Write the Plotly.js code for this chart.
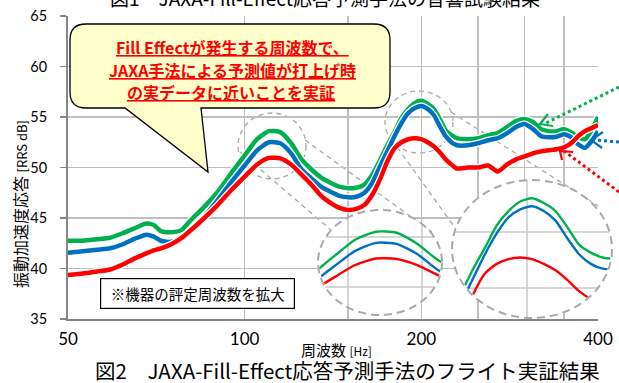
<!DOCTYPE html>
<html><head><meta charset="utf-8">
<script src="https://cdn.plot.ly/plotly-3.0.1.min.js"></script>
<style>html,body{margin:0;padding:0;background:#fff}#chart{width:619px;height:383px}</style>
</head><body><div id="chart"></div>
<script>
// ---- data ----
const freq  = [50,53,56,59,62,65,68,70,72,75,78,81,85,90,95,100,105,110,115,120,125,130,135,140,145,150,155,160,165,170,175,180,185,190,195,200,205,210,215,220,225,230,240,250,260,270,280,290,300,310,320,330,340,350,360,370,380,390,400];
const green = [42.75,42.75,42.9,43.05,43.5,44.0,44.45,44.3,43.7,43.6,43.8,44.8,46.0,47.6,49.5,51.2,52.8,53.6,53.5,52.4,50.8,49.8,49.0,48.5,48.1,47.95,48.0,48.3,49.3,50.7,52.2,53.5,54.9,55.8,56.4,56.6,56.3,55.8,54.8,53.7,53.2,52.9,52.8,52.9,53.2,53.4,54.0,54.6,54.8,54.5,53.8,53.6,53.6,53.8,53.5,53.0,52.8,53.7,55.0];
const blue  = [41.57,41.7,41.85,42.0,42.4,42.95,43.35,43.15,42.75,42.65,42.95,43.8,45.0,46.8,48.6,50.2,51.7,52.5,52.4,51.4,49.8,48.9,48.1,47.6,47.2,47.05,47.1,47.5,48.5,50.1,51.6,53.1,54.4,55.4,55.9,56.1,55.8,55.2,54.1,53.1,52.5,52.2,52.2,52.4,52.7,52.9,53.4,54.0,54.3,53.8,53.1,53.0,53.05,53.3,53.0,52.3,51.95,52.6,53.6];
const red   = [39.36,39.5,39.7,39.9,40.4,41.0,41.5,41.8,42.0,42.4,43.0,43.8,44.9,46.3,47.8,49.1,50.3,50.95,50.9,50.3,49.3,48.3,47.2,46.5,46.0,45.8,45.9,46.3,47.3,48.8,50.6,51.9,52.5,52.8,52.9,52.8,52.5,52.1,51.5,50.8,50.3,49.9,50.0,50.0,50.2,49.6,50.3,50.8,51.1,51.4,51.6,51.7,51.8,52.0,52.4,53.1,53.6,53.9,54.2];
const xTickVals  = [50,100,200,400];
const xTickText  = ['50','100','200','400'];
const xMinorGrid = [150,250,300,350];
const seriesColors = ['#00b050','#0070c0','#ff0000'];

// ---- geometry helpers (pixel -> paper) ----
const W=619,H=383,L=68,R=612,T=16,B=319,PR=598;
const px=x=>(x-L)/(R-L), py=y=>(B-y)/(B-T);
const P=(x,y)=>px(x).toFixed(5)+','+py(y).toFixed(5);

const traces=[];
const series=[green,blue,red];
series.forEach((s,i)=>{
  traces.push({x:freq,y:s,xaxis:'x',yaxis:'y',mode:'lines',line:{color:'#ffffff',width:7,shape:'spline',smoothing:0.6},hoverinfo:'skip'});
  traces.push({x:freq,y:s,xaxis:'x',yaxis:'y',mode:'lines',line:{color:seriesColors[i],width:4.5,shape:'spline',smoothing:0.6}});
});
const lenses=[
  {ax:'2',x0:318,x1:442,y0:210,y1:315,xr:[96,126],yr:[45.35,55.75],hg:[237,287],vg:[348,422]},
  {ax:'3',x0:452,x1:612,y0:180,y1:318,xr:[166,234],yr:[49.12,57.74],hg:[232,288],vg:[527]}
];
lenses.forEach(l=>{
  series.forEach((s,i)=>{
    traces.push({x:freq,y:s,xaxis:'x'+l.ax,yaxis:'y'+l.ax,mode:'lines',line:{color:seriesColors[i],width:2.4,shape:'spline',smoothing:0.6}});
  });
});

const shapes=[];
lenses.forEach(l=>{
  const cx=(l.x0+l.x1)/2, cy=(l.y0+l.y1)/2, rx=(l.x1-l.x0)/2, ry=(l.y1-l.y0)/2;
  const dX=p=>l.xr[0]+(p-l.x0)/(l.x1-l.x0)*(l.xr[1]-l.xr[0]);
  const dY=p=>l.yr[1]-(p-l.y0)/(l.y1-l.y0)*(l.yr[1]-l.yr[0]);
  shapes.push({type:'circle',xref:'x'+l.ax,yref:'y'+l.ax,x0:l.xr[0],x1:l.xr[1],y0:l.yr[0],y1:l.yr[1],fillcolor:'#ffffff',line:{width:0},layer:'below'});
  l.hg.forEach(g=>{const hw=rx*Math.sqrt(Math.max(0,1-((g-cy)/ry)**2));
    shapes.push({type:'line',xref:'x'+l.ax,yref:'y'+l.ax,x0:dX(cx-hw),x1:dX(cx+hw),y0:dY(g),y1:dY(g),line:{color:'#c8c8c8',width:1.5},layer:'below'});});
  l.vg.forEach(g=>{const hh=ry*Math.sqrt(Math.max(0,1-((g-cx)/rx)**2));
    shapes.push({type:'line',xref:'x'+l.ax,yref:'y'+l.ax,x0:dX(g),x1:dX(g),y0:dY(cy-hh),y1:dY(cy+hh),line:{color:'#c8c8c8',width:1.5},layer:'below'});});
  shapes.push({type:'circle',xref:'paper',yref:'paper',x0:px(l.x0),x1:px(l.x1),y0:py(l.y1),y1:py(l.y0),line:{color:'#a9a9a9',width:2,dash:'8px,5px'},layer:'above'});
});
const dash={color:'#a9a9a9',width:1.3,dash:'5px,4px'};
shapes.push({type:'circle',xref:'paper',yref:'paper',x0:px(238),x1:px(306),y0:py(179),y1:py(113),line:dash,layer:'below'});
shapes.push({type:'circle',xref:'paper',yref:'paper',x0:px(385),x1:px(453),y0:py(153),y1:py(91),line:dash,layer:'below'});
[[240,152,331,230],[305,140,432,232],[392,140,458,232],[451,112,598,206]].forEach(c=>{
  shapes.push({type:'line',xref:'paper',yref:'paper',x0:px(c[0]),y0:py(c[1]),x1:px(c[2]),y1:py(c[3]),line:dash,layer:'below'});
});
const arrows=[
  {c:'#00b050',from:[619,87],tip:[540,124],a1:[548,114],a2:[553,126]},
  {c:'#0070c0',from:[619,142],tip:[591,140],a1:[603,132],a2:[602,148]},
  {c:'#ff0000',from:[619,192],tip:[560,151],a1:[573,152],a2:[562,160]}
];
arrows.forEach(a=>{
  shapes.push({type:'line',xref:'paper',yref:'paper',x0:px(a.from[0]),y0:py(a.from[1]),x1:px(a.tip[0]+4),y1:py(a.tip[1]),line:{color:a.c,width:3,dash:'dot'},layer:'above'});
  shapes.push({type:'path',xref:'paper',yref:'paper',path:'M'+P(a.a1[0],a.a1[1])+' L'+P(a.tip[0],a.tip[1])+' L'+P(a.a2[0],a.a2[1]),line:{color:a.c,width:2.2},layer:'above'});
});
{
  const x0=70,x1=390,y0=24,y1=108,r=16;
  const path='M'+P(x0+r,y0)+' L'+P(x1-r,y0)+' Q'+P(x1,y0)+' '+P(x1,y0+r)+' L'+P(x1,y1-r)+' Q'+P(x1,y1)+' '+P(x1-r,y1)+
    ' L'+P(201,y1)+' L'+P(208,172)+' L'+P(125,y1)+' L'+P(x0+r,y1)+' Q'+P(x0,y1)+' '+P(x0,y1-r)+' L'+P(x0,y0+r)+' Q'+P(x0,y0)+' '+P(x0+r,y0)+' Z';
  shapes.push({type:'path',xref:'paper',yref:'paper',path:path,fillcolor:'#ffffcc',line:{color:'#000000',width:1.3},layer:'above'});
}

const JP='"Noto Sans CJK JP", "Noto Sans", sans-serif';
const ann=(text,x,y,o)=>Object.assign({text:text,xref:'paper',yref:'paper',x:px(x),y:py(y),xanchor:'center',yanchor:'middle',showarrow:false,font:{family:JP,size:16,color:'#000'}},o||{});
const callFont={family:JP,size:16,color:'#ff0000',weight:'bold'};
const annotations=[
  ann('図1　JAXA-Fill-Effect応答予測手法の音響試験結果',325,-3,{font:{family:JP,size:19,color:'#000'}}),
  ann('<u><b>Fill Effectが発生する周波数で、</b></u>',232,47,{font:callFont}),
  ann('<u><b>JAXA手法による予測値が打上げ時</b></u>',232,70,{font:callFont}),
  ann('<u><b>の実データに近いことを実証</b></u>',231,92,{font:callFont}),
  ann('※機器の評定周波数を拡大',197.5,293.5,{font:{family:JP,size:14.5,color:'#000'},bordercolor:'#000',borderwidth:1.2,borderpad:0,bgcolor:'#ffffff',width:193,height:29}),
  ann('周波数 <span style="font-size:12px">[Hz]</span>',336,349,{font:{family:JP,size:15,color:'#000'}}),
  ann('振動加速度応答 <span style="font-size:13px">[RRS dB]</span>',20,204,{textangle:-90,font:{family:JP,size:16,color:'#000'}}),
  ann('図2　JAXA-Fill-Effect応答予測手法のフライト実証結果',347,370,{font:{family:JP,size:20.5,color:'#000'}})
];

const inset=(l,axis)=>axis==='x'
  ?{domain:[px(l.x0),px(l.x1)],anchor:'y'+l.ax,range:l.xr,type:'linear',showgrid:false,zeroline:false,showticklabels:false,showline:false,ticks:''}
  :{domain:[py(l.y1),py(l.y0)],anchor:'x'+l.ax,range:l.yr,showgrid:false,zeroline:false,showticklabels:false,showline:false,ticks:''};

const layout={
  width:W,height:H,margin:{l:L,r:W-R,t:T,b:H-B},
  paper_bgcolor:'#ffffff',plot_bgcolor:'rgba(0,0,0,0)',showlegend:false,
  font:{family:'Lato, sans-serif',color:'#000'},
  xaxis:{type:'log',domain:[0,px(PR)],range:[Math.log10(50),Math.log10(400)],tickvals:xTickVals,ticktext:xTickText,
    showgrid:true,gridcolor:'#bfbfbf',gridwidth:1.6,minor:{tickvals:xMinorGrid,showgrid:true,gridcolor:'#bfbfbf',gridwidth:1.6,ticklen:0},
    showline:true,linecolor:'#868686',linewidth:2,ticks:'',tickfont:{family:'Lato, sans-serif',size:17,color:'#000'},ticklabelstandoff:4,zeroline:false},
  yaxis:{range:[35,65],dtick:5,tick0:35,showgrid:true,gridcolor:'#bfbfbf',gridwidth:1.6,showline:true,linecolor:'#868686',linewidth:2,
    ticks:'outside',ticklen:6,tickwidth:1.5,tickcolor:'#868686',tickfont:{family:'Lato, sans-serif',size:14.5,color:'#000'},ticklabelstandoff:10,zeroline:false},
  xaxis2:inset(lenses[0],'x'),yaxis2:inset(lenses[0],'y'),
  xaxis3:inset(lenses[1],'x'),yaxis3:inset(lenses[1],'y'),
  shapes:shapes,annotations:annotations
};
Plotly.newPlot('chart',traces,layout,{staticPlot:true,displayModeBar:false}).then(()=>{
  // clip the magnified curves to the round lens outline
  ['x2y2','x3y3'].forEach(id=>{
    document.querySelectorAll('clipPath[id$="'+id+'plot"]').forEach(cp=>{
      const r=cp.querySelector('rect'); if(!r) return;
      const x=+(r.getAttribute('x')||0), y=+(r.getAttribute('y')||0), w=+r.getAttribute('width'), h=+r.getAttribute('height');
      const e=document.createElementNS('http://www.w3.org/2000/svg','ellipse');
      e.setAttribute('cx',x+w/2); e.setAttribute('cy',y+h/2); e.setAttribute('rx',w/2-1); e.setAttribute('ry',h/2-1);
      r.remove(); cp.appendChild(e);
    });
  });
});
</script></body></html>
